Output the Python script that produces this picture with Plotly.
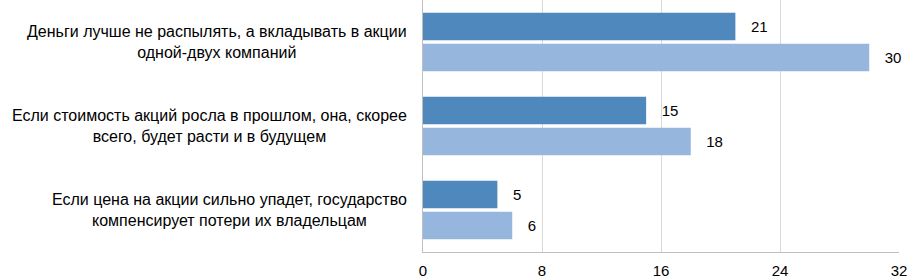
import plotly.graph_objects as go

categories = [
    "Деньги лучше не распылять, а вкладывать в акции<br>одной-двух компаний",
    "Если стоимость акций росла в прошлом, она, скорее<br>всего, будет расти и в будущем",
    "Если цена на акции сильно упадет, государство<br>компенсирует потери их владельцам",
]
series_dark = [21, 15, 5]
series_light = [30, 18, 6]
x_ticks = [0, 8, 16, 24, 32]

keys = ["c1", "c2", "c3"]
FONT = "Liberation Sans, Arial, sans-serif"

fig = go.Figure()
for vals, color in ((series_dark, "#4f88bc"), (series_light, "#96b6de")):
    fig.add_trace(go.Bar(
        y=keys, x=vals, orientation="h",
        marker=dict(color=color, line=dict(width=0)),
        text=vals, texttemplate="   %{x}", textposition="outside",
        constraintext="none",
        textfont=dict(size=15, color="#000000", family=FONT), cliponaxis=False,
    ))

for k, label in zip(keys, categories):
    fig.add_annotation(
        x=0, xref="paper", xanchor="right", xshift=-14,
        y=k, yref="y", yanchor="middle",
        text=label, align="center", showarrow=False,
        font=dict(size=16, color="#000000", family=FONT),
    )

fig.update_layout(
    width=908, height=278,
    margin=dict(l=423, r=9, t=0, b=26),
    paper_bgcolor="white", plot_bgcolor="white",
    barmode="group", bargap=0.26, bargroupgap=0.12,
    showlegend=False,
    font=dict(family=FONT, size=15, color="#000000"),
    xaxis=dict(
        range=[0, 32], tickvals=x_ticks, ticktext=[str(v) for v in x_ticks],
        showgrid=True, gridcolor="#d9d9d9", gridwidth=1,
        showline=True, linecolor="#bfbfbf", linewidth=1,
        ticks="", zeroline=False, tickfont=dict(size=15, color="#000000"),
        ticklabelstandoff=5,
    ),
    yaxis=dict(
        autorange="reversed", showticklabels=False,
        showline=True, linecolor="#bfbfbf", linewidth=1,
        ticks="", showgrid=False, zeroline=False,
    ),
)

fig.write_html("out.html", config={"displayModeBar": False},
               post_script="document.body.style.margin='0';")
